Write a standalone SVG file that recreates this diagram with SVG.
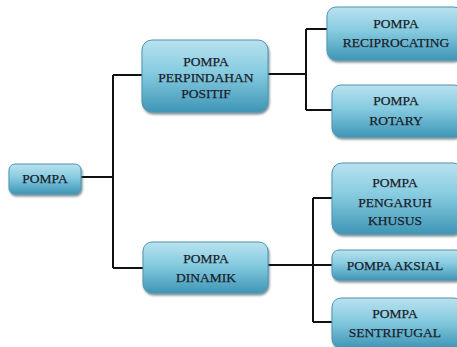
<svg xmlns="http://www.w3.org/2000/svg" width="457" height="347" viewBox="0 0 457 347">
<defs>
<linearGradient id="g" x1="0" y1="0" x2="0" y2="1">
<stop offset="0" stop-color="#b9e2ef"/>
<stop offset="0.45" stop-color="#86cbe0"/>
<stop offset="1" stop-color="#3f96b6"/>
</linearGradient>
<filter id="sh" x="-10%" y="-10%" width="130%" height="140%">
<feDropShadow dx="1" dy="2" stdDeviation="1.2" flood-color="#1d3f50" flood-opacity="0.6"/>
</filter>
</defs>
<style>
.box{fill:url(#g);stroke:#4e95b0;stroke-width:1;filter:url(#sh)}
.t{font-family:"Liberation Serif","Times New Roman",serif;font-size:13.5px;fill:#1a1d2a;stroke:#1a1d2a;stroke-width:0.25;text-anchor:middle}
.c{fill:none;stroke:#111;stroke-width:2}
</style>
<rect width="457" height="347" fill="#fff"/>
<g id="connectors">
<path class="c" d="M81 177 H113 M113 75 V268 M113 75 H143 M113 268 H143"/>
<path class="c" d="M268 74 H306 M306 29 V110 M306 29 H327 M306 110 H332"/>
<path class="c" d="M268 265 H332 M313 198 V322 M313 198 H332 M313 322 H332"/>
</g>
<g id="pompa">
<rect class="box" x="9" y="164" width="72" height="30" rx="6"/>
<text class="t" x="45" y="183">POMPA</text>
</g>
<g id="perpindahan">
<rect class="box" x="142" y="40" width="126" height="72" rx="10"/>
<text class="t" x="206" y="66">POMPA</text>
<text class="t" x="206" y="82">PERPINDAHAN</text>
<text class="t" x="206" y="98">POSITIF</text>
</g>
<g id="dinamik">
<rect class="box" x="143" y="242" width="125" height="51" rx="9"/>
<text class="t" x="206" y="263">POMPA</text>
<text class="t" x="206" y="282">DINAMIK</text>
</g>
<g id="reciprocating">
<rect class="box" x="327" y="7" width="136" height="53" rx="9"/>
<text class="t" x="396" y="28">POMPA</text>
<text class="t" x="396" y="47">RECIPROCATING</text>
</g>
<g id="rotary">
<rect class="box" x="332" y="85" width="131" height="52" rx="9"/>
<text class="t" x="396" y="105">POMPA</text>
<text class="t" x="396" y="125">ROTARY</text>
</g>
<g id="pengaruh">
<rect class="box" x="332" y="163" width="131" height="71" rx="10"/>
<text class="t" x="395" y="187">POMPA</text>
<text class="t" x="395" y="207">PENGARUH</text>
<text class="t" x="395" y="225">KHUSUS</text>
</g>
<g id="aksial">
<rect class="box" x="332" y="250" width="131" height="30" rx="7"/>
<text class="t" x="395" y="270">POMPA AKSIAL</text>
</g>
<g id="sentrifugal">
<rect class="box" x="332" y="298" width="131" height="50" rx="9"/>
<text class="t" x="395" y="318">POMPA</text>
<text class="t" x="395" y="337">SENTRIFUGAL</text>
</g>
</svg>
